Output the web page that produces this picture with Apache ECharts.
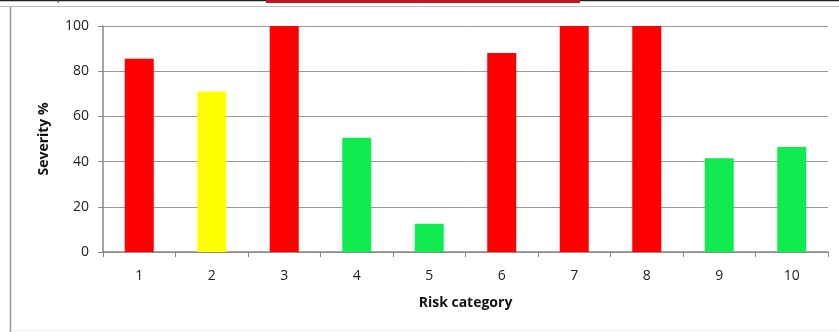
<!DOCTYPE html>
<html>
<head>
<meta charset="utf-8">
<script src="https://cdn.jsdelivr.net/npm/echarts@6/dist/echarts.min.js"></script>
<style>
  html, body { margin: 0; padding: 0; background: #fff; }
  #chart { width: 839px; height: 332px; }
</style>
</head>
<body>
<div id="chart"></div>
<script>
(function(){
    // data
    let categories = ['1', '2', '3', '4', '5', '6', '7', '8', '9', '10'];
    let severity = [85.5, 71, 100, 50.5, 12.5, 88, 100, 100, 41.5, 46.5];
    let barColors = ['#ff0000', '#ffff00', '#ff0000', '#10eb50', '#10eb50',
                     '#ff0000', '#ff0000', '#ff0000', '#10eb50', '#10eb50'];
    let yTicks = [0, 20, 40, 60, 80, 100];

    let font = '"Open Sans", "Liberation Sans", sans-serif';

    let chart = echarts.init(document.getElementById('chart'));

    chart.setOption({
        animation: false,
        backgroundColor: '#fff',
        grid: { left: 103, right: 11, top: 26, bottom: 80 },
        graphic: [
            // frame remnants around the pasted chart
            { type: 'line', shape: { x1: 0, y1: 0.5, x2: 839, y2: 0.5 }, style: { stroke: '#222', lineWidth: 1.5 } },
            { type: 'rect', shape: { x: 266, y: 0, width: 314, height: 3 }, style: { fill: '#c8141c' } },
            { type: 'line', shape: { x1: 58, y1: 0, x2: 58, y2: 3 }, style: { stroke: '#444', lineWidth: 1 } },
            { type: 'line', shape: { x1: 0, y1: 6.5, x2: 839, y2: 6.5 }, style: { stroke: '#bbb', lineWidth: 1 } },
            { type: 'line', shape: { x1: 10.5, y1: 7, x2: 10.5, y2: 332 }, style: { stroke: '#999', lineWidth: 1.5 } },
            { type: 'line', shape: { x1: 11, y1: 330.5, x2: 839, y2: 330.5 }, style: { stroke: '#eee', lineWidth: 1 } }
        ],
        xAxis: {
            type: 'category',
            data: categories,
            name: 'Risk category',
            nameLocation: 'middle',
            nameGap: 44,
            nameTextStyle: { fontFamily: font, fontSize: 14, fontWeight: 'bold', color: '#111' },
            axisLine: { lineStyle: { color: '#888', width: 1.5 } },
            axisTick: { show: true, length: 5, inside: false, lineStyle: { color: '#888' } },
            axisLabel: { fontFamily: font, fontSize: 14, color: '#222', margin: 17 }
        },
        yAxis: {
            type: 'value',
            min: 0,
            max: 100,
            interval: 20,
            name: 'Severity %',
            nameLocation: 'middle',
            nameGap: 52,
            nameRotate: 90,
            nameTextStyle: { fontFamily: font, fontSize: 14, fontWeight: 'bold', color: '#111' },
            axisLine: { show: true, lineStyle: { color: '#888', width: 1.5 } },
            axisTick: { show: true, length: 5, lineStyle: { color: '#888' } },
            axisLabel: {
                fontFamily: font, fontSize: 14, color: '#222', margin: 14,
                formatter: function(v){ return yTicks.indexOf(v) >= 0 ? String(v) : ''; }
            },
            splitLine: { show: true, lineStyle: { color: '#999', width: 1 } }
        },
        series: [
            {
                type: 'bar',
                barWidth: '40%',
                data: severity.map((v, i) => {
                    return { value: v, itemStyle: { color: barColors[i] } };
                })
            }
        ]
    });
})();
</script>
</body>
</html>
